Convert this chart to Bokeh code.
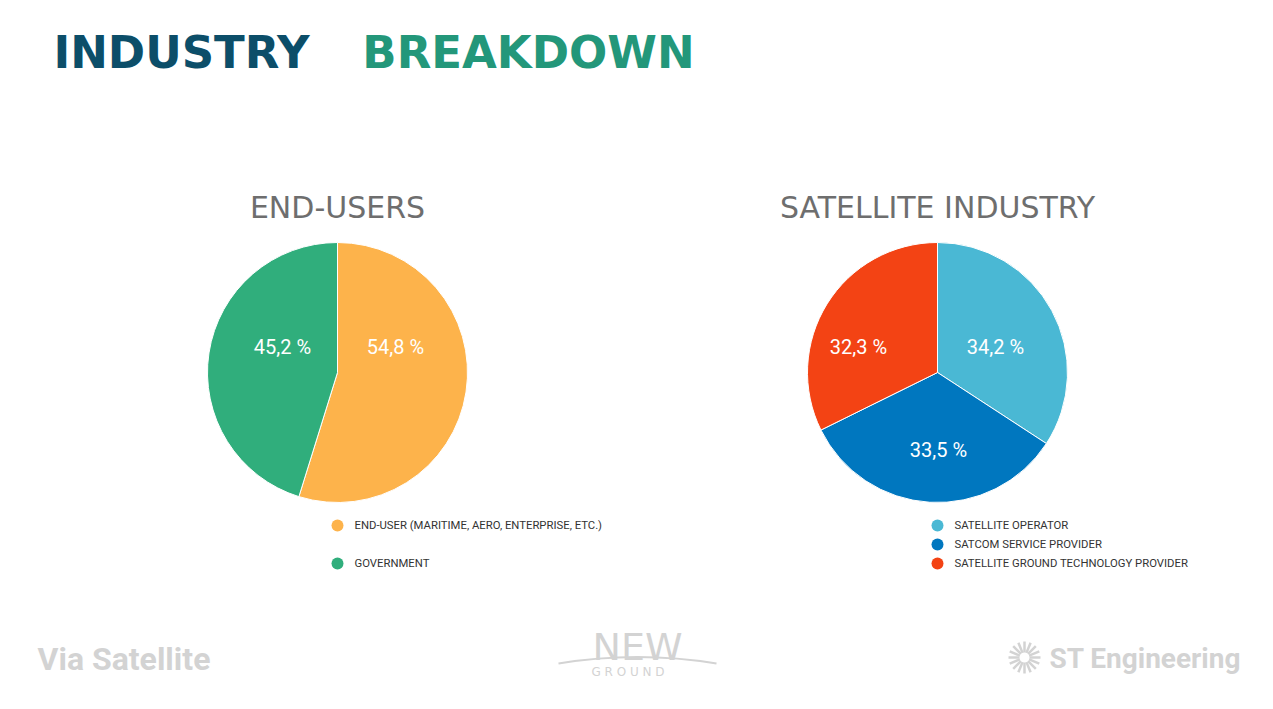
import math
from bokeh.plotting import figure
from bokeh.models import Range1d, ColumnDataSource
from bokeh.core.properties import value
from bokeh.embed import file_html
from bokeh.resources import INLINE

# ---------------- data ----------------
end_user_labels = ["END-USER (MARITIME, AERO, ENTERPRISE, ETC.)", "GOVERNMENT"]
end_user_values = [54.8, 45.2]
end_user_colors = ["#fdb34b", "#30ae7c"]

sat_labels = ["SATELLITE OPERATOR", "SATCOM SERVICE PROVIDER", "SATELLITE GROUND TECHNOLOGY PROVIDER"]
sat_values = [34.2, 33.5, 32.3]
sat_colors = ["#4ab8d4", "#0077bf", "#f34314"]

# ---------------- layout (page pixel coordinates) ----------------
W, H = 1257, 693
def X(px): return px
def Y(py): return H - py

p = figure(width=W, height=H, x_range=Range1d(0, W), y_range=Range1d(0, H),
           output_backend="svg", toolbar_location=None,
           x_axis_location=None, y_axis_location=None, min_border=0)
p.grid.visible = False
p.outline_line_color = None
p.background_fill_color = "white"

# Title
p.text(x=[X(181)], y=[Y(52)], text=["INDUSTRY"], text_font=value("DejaVu Sans"),
       text_font_style="bold", text_font_size="45px", text_color="#0c4e69",
       text_baseline="middle", text_align="center")
p.text(x=[X(528)], y=[Y(52)], text=["BREAKDOWN"], text_font=value("DejaVu Sans"),
       text_font_style="bold", text_font_size="45px", text_color="#23977a",
       text_baseline="middle", text_align="center")

def pie(cx, cy, r, labels, values, colors, title, label_offsets, legend_x, legend_ys):
    total = sum(values)
    starts, ends, cum = [], [], 0.0
    for v in values:
        starts.append(math.pi / 2 - cum / total * 2 * math.pi)
        cum += v
        ends.append(math.pi / 2 - cum / total * 2 * math.pi)
    src = ColumnDataSource(dict(start=starts, end=ends, color=colors))
    p.wedge(x=X(cx), y=Y(cy), radius=r, start_angle="start", end_angle="end",
            direction="clock", fill_color="color", line_color="white", line_width=1,
            source=src)
    # percentage labels
    lx = [X(cx) + dx for dx, dy in label_offsets]
    ly = [Y(cy) + dy for dx, dy in label_offsets]
    txt = [("%.1f" % v).replace(".", ",") + " %" for v in values]
    p.text(x=lx, y=ly, text=txt, text_font=value("Roboto"), text_font_size="20px",
           text_color="white", text_align="center", text_baseline="middle")
    # title
    p.text(x=[X(cx)], y=[Y(207)], text=[title], text_font=value("DejaVu Sans"),
           text_font_size="30px", text_color="#6e6e6e", text_align="center",
           text_baseline="middle")
    # legend
    p.scatter(x=[X(legend_x)] * len(labels), y=[Y(v) for v in legend_ys], size=12,
              fill_color=colors, line_color=None)
    p.text(x=[X(legend_x + 17)] * len(labels), y=[Y(v) for v in legend_ys], text=labels,
           text_font=value("Roboto"), text_font_size="11.3px", text_color="#333333",
           text_align="left", text_baseline="middle")

pie(337, 372, 130, end_user_labels, end_user_values, end_user_colors, "END-USERS",
    [(58, 26), (-55, 26)], 337, [525, 563])
pie(937, 372, 130, sat_labels, sat_values, sat_colors, "SATELLITE INDUSTRY",
    [(58, 26), (1, -77), (-79, 26)], 937, [525, 544, 563])

# Footer logos
logo_gray = "#d3d3d3"
p.text(x=[X(37)], y=[Y(658)], text=["Via Satellite"], text_font=value("Roboto"),
       text_font_style="bold", text_font_size="32px", text_color=logo_gray,
       text_align="left", text_baseline="middle")
p.text(x=[X(637)], y=[Y(646)], text=["NEW"], text_font=value("DejaVu Sans"),
       text_font_size="38px", text_color=logo_gray, text_align="center", text_baseline="middle")
p.quadratic(x0=X(558), y0=Y(663), x1=X(716), y1=Y(663), cx=X(637), cy=Y(650),
            line_color=logo_gray, line_width=2)
p.text(x=[X(637)], y=[Y(671)], text=["G  R  O  U  N  D"], text_font=value("DejaVu Sans"),
       text_font_size="12px", text_color=logo_gray, text_align="center", text_baseline="middle")

sx, sy = X(1024), Y(657)
x0s, y0s, x1s, y1s = [], [], [], []
for k in range(16):
    a = k * 2 * math.pi / 16
    x0s.append(sx + 5 * math.cos(a)); y0s.append(sy + 5 * math.sin(a))
    x1s.append(sx + 16 * math.cos(a)); y1s.append(sy + 16 * math.sin(a))
p.segment(x0=x0s, y0=y0s, x1=x1s, y1=y1s, line_color=logo_gray, line_width=2.5)
p.text(x=[X(1049)], y=[Y(658)], text=["ST Engineering"], text_font=value("Roboto"),
       text_font_style="bold", text_font_size="28px", text_color=logo_gray,
       text_align="left", text_baseline="middle")

open("out.html", "w").write(file_html(p, INLINE))
